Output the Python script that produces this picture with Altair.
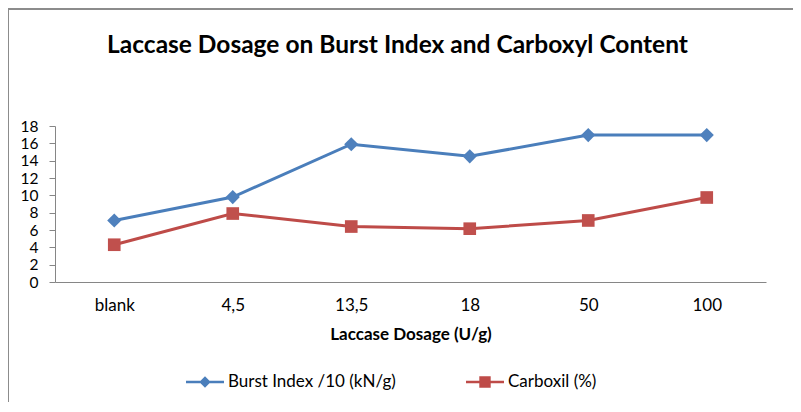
import altair as alt
import pandas as pd

categories = ["blank", "4,5", "13,5", "18", "50", "100"]
burst_index = [7.1, 9.8, 15.9, 14.5, 16.95, 16.95]
carboxil = [4.3, 7.9, 6.4, 6.15, 7.1, 9.75]
series_names = ["Burst Index /10 (kN/g)", "Carboxil (%)"]
colors = ["#4A7EBB", "#BE4B48"]
marker_colors = ["#4F81BD", "#C0504D"]

rows = []
for c, v in zip(categories, burst_index):
    rows.append({"dosage": c, "value": v, "series": series_names[0]})
for c, v in zip(categories, carboxil):
    rows.append({"dosage": c, "value": v, "series": series_names[1]})
df = pd.DataFrame(rows)

FONT = "Lato"
W, H = 711, 156

x_enc = alt.X("dosage:N", sort=categories,
              scale=alt.Scale(type="point", padding=0.5),
              axis=alt.Axis(title="Laccase Dosage (U/g)", labelAngle=0, ticks=False,
                            domainColor="#868686", domainWidth=1, labelPadding=15,
                            labelFontSize=17, labelColor="#000000", titleFontSize=17,
                            titleFontWeight="bold", titleColor="#000000", titlePadding=13,
                            labelFont=FONT, titleFont=FONT, grid=False))
y_enc = alt.Y("value:Q", scale=alt.Scale(domain=[0, 18], nice=False),
              axis=alt.Axis(title=None, values=list(range(0, 19, 2)), grid=False,
                            domainColor="#868686", tickColor="#868686", tickSize=6,
                            labelFontSize=15.5, labelColor="#000000", labelFont=FONT,
                            labelPadding=11))

diamond_legend = "M-1,-0.07H1V0.07H-1Z M0,-0.3L0.3,0L0,0.3L-0.3,0Z"
square_legend = "M-1,-0.07H1V0.07H-1Z M-0.3,-0.3H0.3V0.3H-0.3Z"

legend_def = alt.Legend(title=None, orient="none", direction="horizontal",
                        legendX=131, legendY=237, padding=0,
                        symbolSize=1444, labelFontSize=17, labelFont=FONT,
                        labelFontWeight="normal", labelLimit=400,
                        labelColor="#000000", labelOffset=4, symbolOpacity=1,
                        columnPadding=70, symbolStrokeWidth=0)

color_scale = alt.Scale(domain=series_names, range=colors)

base = alt.Chart(df)
lines = base.mark_line(strokeWidth=3).encode(
    x=x_enc, y=y_enc,
    color=alt.Color("series:N", sort=series_names, scale=color_scale, legend=legend_def))
pts_blue = base.transform_filter(alt.datum.series == series_names[0]).mark_point(
    filled=True, opacity=1, shape="diamond", size=200, color=marker_colors[0]
).encode(x=x_enc, y=y_enc)
pts_red = base.transform_filter(alt.datum.series == series_names[1]).mark_point(
    filled=True, opacity=1, shape="square", size=160, color=marker_colors[1]
).encode(x=x_enc, y=y_enc)
leg = base.mark_point(filled=True, opacity=0).encode(
    x=x_enc, y=y_enc,
    color=alt.Color("series:N", sort=series_names, scale=color_scale, legend=legend_def),
    shape=alt.Shape("series:N", sort=series_names,
                    scale=alt.Scale(domain=series_names, range=[diamond_legend, square_legend]),
                    legend=legend_def),
)

border_top = alt.Chart(pd.DataFrame({"a": [0]})).mark_rule(color="#8C8C8C", strokeWidth=2).encode(
    x=alt.value(-47), x2=alt.value(738), y=alt.value(-117))
border_left = alt.Chart(pd.DataFrame({"a": [0]})).mark_rule(color="#8C8C8C", strokeWidth=2).encode(
    x=alt.value(-47), y=alt.value(-117), y2=alt.value(276))

chart = alt.layer(lines, pts_blue, pts_red, leg, border_top, border_left).properties(
    width=W, height=H,
    background="white",
    autosize=alt.AutoSizeParams(type="none"),
    padding={"left": 47, "top": 118, "right": 27, "bottom": 120},
    title=alt.Title("Laccase Dosage on Burst Index and Carboxyl Content",
                    fontSize=24.5, font=FONT, fontWeight="bold", color="#000000",
                    anchor="middle", frame="group", dx=-13, offset=-50),
).configure_view(strokeWidth=0, stroke="transparent")

chart.save("out.html", embed_options={"renderer": "svg", "actions": False})
